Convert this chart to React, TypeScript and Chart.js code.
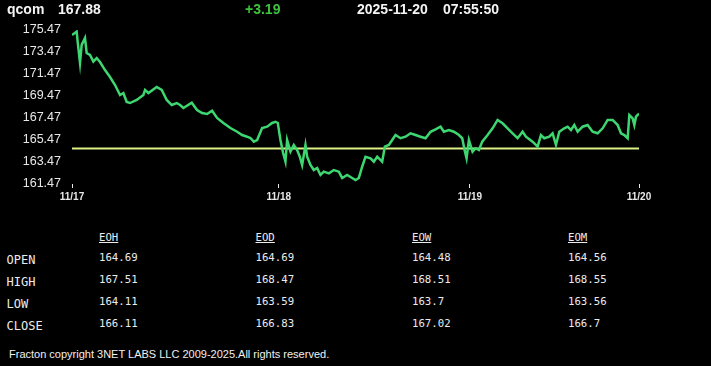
import React, { useEffect, useRef } from "react";
import { Chart, registerables } from "chart.js";

Chart.register(...registerables);

const symbol = "qcom";
const lastPrice = "167.88";
const change = "+3.19";
const dateText = "2025-11-20";
const timeText = "07:55:50";
const prevClose = 164.69;

// bar index (time axis) and price
const barIdx = [
  0, 1.4, 1.8, 2.4, 2.9, 3.9, 4.4, 5.4, 6.4, 7.4, 8.4, 9.9, 11.4, 12.9, 14.4, 15.4, 16.4, 17.4, 19.4, 21.4,
  21.9, 22.9, 25.4, 26.9, 28.4, 29.9, 31.4, 32.4, 33.4, 35.9, 37.5, 39.0, 40.5, 42.0, 43.5, 45.4, 47.5, 49.5,
  51.0, 52.5, 53.5, 54.5, 55.5, 57.0, 58.5, 60.0, 61.0, 61.7, 62.5, 63.3, 64.0, 64.5, 65.5, 66.5, 67.5, 68.3,
  69.0, 70.0, 70.5, 71.5, 72.5, 73.5, 74.5, 75.5, 77.0, 78.5, 80.0, 81.0, 82.5, 84.0, 85.0, 86.0, 87.0, 88.0,
  89.5, 90.5, 91.5, 93.0, 93.8, 95.0, 96.0, 97.0, 98.5, 100.0, 101.5, 103.0, 104.5, 106.0, 107.5, 109.0,
  110.5, 111.5, 113.0, 114.5, 116.0, 117.0, 117.7, 118.3, 119.0, 120.1, 121.0, 122.0, 123.0, 124.6, 126.1,
  127.6, 129.1, 130.6, 132.1, 133.6, 135.1, 136.1, 138.1, 139.6, 140.6, 141.6, 143.1, 144.1, 145.1, 146.1,
  147.6, 148.6, 149.6, 150.6, 151.6, 153.1, 154.6, 156.1, 157.6, 159.1, 160.6, 162.1, 163.6, 164.6, 165.6,
  166.6, 167.1, 168.1, 168.6, 169.1, 170,
];
const prices = [
  175.02, 175.32, 174.11, 172.47, 174.11, 174.74, 173.38, 173.2, 172.59, 172.92, 172.56, 171.83, 171.2, 170.47,
  169.56, 169.74, 168.92, 168.83, 169.11, 169.56, 170.02, 169.74, 170.29, 170.02, 169.11, 168.65, 168.83, 168.65,
  168.38, 168.86, 168.2, 167.92, 167.83, 168.13, 167.47, 167.02, 166.56, 166.22, 165.92, 165.77, 165.65, 165.32,
  165.47, 166.56, 166.68, 167.02, 167.13, 167.02, 165.47, 164.29, 163.5, 165.47, 164.41, 165.02, 164.56, 163.95,
  163.2, 165.02, 163.95, 163.2, 162.74, 162.92, 162.29, 162.59, 162.44, 162.74, 162.59, 162.02, 162.29, 162.02,
  161.83, 162.02, 163.04, 163.95, 163.81, 163.5, 163.95, 163.5, 164.86, 165.02, 165.47, 165.92, 165.63, 165.77,
  166.08, 165.92, 165.77, 165.63, 166.22, 166.44, 166.68, 166.22, 166.38, 166.22, 165.92, 165.63, 164.56, 163.81,
  165.47, 164.41, 164.72, 164.56, 165.32, 165.92, 166.53, 167.29, 166.99, 166.53, 166.08, 165.63, 166.22, 165.77,
  165.32, 164.86, 165.92, 165.63, 165.77, 166.08, 165.02, 166.22, 166.53, 166.68, 166.38, 166.83, 166.22, 166.68,
  166.83, 166.22, 166.08, 166.53, 167.29, 167.29, 166.83, 166.08, 165.92, 165.63, 167.74, 167.44, 166.83, 167.59,
  167.88,
];

const yTicks = [161.47, 163.47, 165.47, 167.47, 169.47, 171.47, 173.47, 175.47];
const xTickPos = [0, 62, 119.3, 170];
const xTickLabels = ["11/17", "11/18", "11/19", "11/20"];

const tableCols = ["EOH", "EOD", "EOW", "EOM"];
const rowLabels = ["OPEN", "HIGH", "LOW", "CLOSE"];
const eoh = ["164.69", "167.51", "164.11", "166.11"];
const eod = ["164.69", "168.47", "163.59", "166.83"];
const eow = ["164.48", "168.51", "163.7", "167.02"];
const eom = ["164.56", "168.55", "163.56", "166.7"];
const tableValues = [eoh, eod, eow, eom];
const footer = "Fracton copyright 3NET LABS LLC 2009-2025.All rights reserved.";

const colX = [99, 255.5, 412, 568];
const rowY = [259, 281, 303, 325];

export default function App() {
  const ref = useRef<HTMLCanvasElement>(null);
  useEffect(() => {
    document.body.style.background = "#000";
    const ctx = ref.current!;
    const chart = new Chart(ctx, {
      type: "line",
      data: {
        datasets: [
          {
            data: barIdx.map((x, i) => ({ x, y: prices[i] })),
            borderColor: "#3ed670",
            borderWidth: 2.5,
            pointRadius: 0,
            tension: 0,
          },
          {
            data: [
              { x: 0, y: prevClose },
              { x: 170.4, y: prevClose },
            ],
            borderColor: "#dcf086",
            borderWidth: 2,
            pointRadius: 0,
          },
        ],
      },
      options: {
        animation: false,
        responsive: false,
        devicePixelRatio: 1,
        layout: { padding: { left: 0, right: 72, top: 30, bottom: 0 } },
        plugins: { legend: { display: false }, tooltip: { enabled: false } },
        scales: {
          x: {
            type: "linear",
            min: 0,
            max: 170,
            grid: { display: true, drawOnChartArea: false, drawTicks: true, tickLength: 4, color: "#e8e8e8" },
            border: { display: false },
            afterBuildTicks: (s: any) => {
              s.ticks = xTickPos.map((v) => ({ value: v }));
            },
            afterFit: (s: any) => {
              s.height = 26;
            },
            ticks: {
              autoSkip: false,
              maxRotation: 0,
              padding: 3,
              color: "#e8e8e8",
              font: { family: "Liberation Sans, Arial", size: 10, weight: "bold" },
              callback: (v: any) => {
                const i = xTickPos.indexOf(Number(v));
                return i >= 0 ? xTickLabels[i] : "";
              },
            },
          },
          y: {
            type: "linear",
            min: 161.47,
            max: 175.47,
            grid: { display: false, drawTicks: false },
            border: { display: false },
            afterBuildTicks: (s: any) => {
              s.ticks = yTicks.map((v) => ({ value: v }));
            },
            afterFit: (s: any) => {
              s.width = 72;
            },
            ticks: {
              padding: 11,
              color: "#e8e8e8",
              font: { family: "Liberation Sans, Arial", size: 12.5 },
              callback: (v: any) => Number(v).toFixed(2),
            },
          },
        },
      },
    });
    return () => chart.destroy();
  }, []);

  const head: React.CSSProperties = {
    position: "absolute",
    top: 1,
    fontFamily: "Liberation Sans, Arial, sans-serif",
    fontWeight: "bold",
    fontSize: 14,
    lineHeight: "16px",
    color: "#f4f4f4",
    whiteSpace: "pre",
  };
  const mono: React.CSSProperties = {
    position: "absolute",
    fontFamily: "DejaVu Sans Mono, Liberation Mono, monospace",
    color: "#ececec",
    whiteSpace: "pre",
    lineHeight: "14px",
  };

  return (
    <div style={{ position: "absolute", left: 0, top: 0, width: 711, height: 366, background: "#000", overflow: "hidden" }}>
      <canvas ref={ref} width={711} height={210} style={{ position: "absolute", left: 0, top: 0, display: "block" }} />
      <div style={{ ...head, left: 7 }}>{symbol}</div>
      <div style={{ ...head, left: 58 }}>{lastPrice}</div>
      <div style={{ ...head, left: 245, color: "#3cc23c" }}>{change}</div>
      <div style={{ ...head, left: 357 }}>{dateText}</div>
      <div style={{ ...head, left: 443 }}>{timeText}</div>
      {tableCols.map((c, j) => (
        <div key={c} style={{ ...mono, left: colX[j], top: 231, fontSize: 10.7, textDecoration: "underline" }}>
          {c}
        </div>
      ))}
      {rowLabels.map((r, i) => (
        <div key={r} style={{ ...mono, left: 6.5, top: rowY[i] - 6.5, fontSize: 12 }}>
          {r}
        </div>
      ))}
      {tableValues.map((col, j) =>
        col.map((v, i) => (
          <div key={j + "-" + i} style={{ ...mono, left: colX[j], top: rowY[i] - 8, fontSize: 10.7 }}>
            {v}
          </div>
        ))
      )}
      <div
        style={{
          position: "absolute",
          left: 9,
          top: 347.5,
          fontFamily: "Liberation Sans, Arial, sans-serif",
          fontSize: 11,
          lineHeight: "13px",
          color: "#f0f0f0",
          whiteSpace: "pre",
        }}
      >
        {footer}
      </div>
    </div>
  );
}
